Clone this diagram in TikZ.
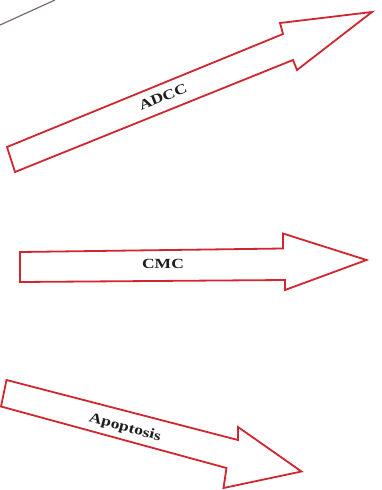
\documentclass[tikz,border=0pt]{standalone}
\usepackage{fontspec}
\setmainfont{Liberation Serif}
\newfontfamily\lblfont[FakeStretch=1.25]{Liberation Serif}
\definecolor{arrowred}{RGB}{208,38,48}
\definecolor{txtgray}{RGB}{30,30,30}
\definecolor{linegray}{RGB}{125,105,110}
\begin{document}
\begin{tikzpicture}[x=1pt,y=-1pt,
  bigarrow/.style={draw=arrowred, line width=1.8pt, fill=white, line join=miter},
  lbl/.style={text=txtgray, font=\lblfont\bfseries\fontsize{14}{16}\selectfont, inner sep=0pt}]
\useasboundingbox (0,0) rectangle (381,490);
% thin line at top-left
\coordinate (l1) at (0,25);
\coordinate (l2) at (55,0);
\draw[linegray, line width=1.2pt] (l1) -- (l2);
% ADCC arrow
\draw[bigarrow] (7,147) -- (283,34) -- (280,23) -- (372,12) -- (297,70) -- (293,60) -- (15,172) -- cycle;
\node[lbl, rotate=22] (adcc) at (163,97) {ADCC};
% CMC arrow
\draw[bigarrow] (20,252) -- (283,248.5) -- (283,233.5) -- (366.5,260) -- (285,290) -- (285,280) -- (20,282) -- cycle;
\node[lbl] (cmc) at (163,264) {CMC};
% Apoptosis arrow
\draw[bigarrow] (6.5,380) -- (238,440) -- (238,427) -- (301.5,471.5) -- (223.5,488) -- (226.5,468) -- (1,406.5) -- cycle;
\node[lbl, rotate=-15] (apo) at (125,428) {Apoptosis};
\end{tikzpicture}
\end{document}
